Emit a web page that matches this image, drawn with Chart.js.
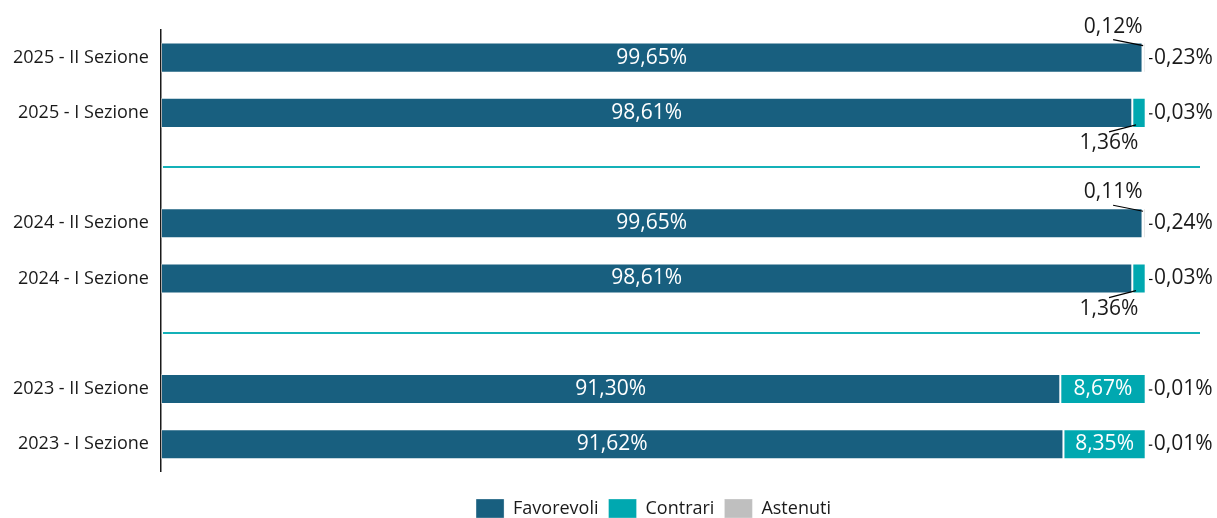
<!DOCTYPE html>
<html lang="it">
<head>
<meta charset="utf-8">
<title>Voti Sezioni</title>
<script src="https://cdn.jsdelivr.net/npm/chart.js@4"></script>
<style>
  html, body { margin: 0; padding: 0; background: #fff; overflow: hidden; }
  #wrap { width: 1217px; height: 528px; position: relative; }
</style>
</head>
<body>
<div id="wrap"><canvas id="votiChart"></canvas></div>
<script>
// --- Dati ---
const categorie = ['2025 - II Sezione', '2025 - I Sezione', '', '2024 - II Sezione', '2024 - I Sezione', '', '2023 - II Sezione', '2023 - I Sezione'];
const favorevoli = [99.65, 98.61, null, 99.65, 98.61, null, 91.30, 91.62];
const contrari   = [0.12, 1.36, null, 0.11, 1.36, null, 8.67, 8.35];
const astenuti   = [0.23, 0.03, null, 0.24, 0.03, null, 0.01, 0.01];

const COL_FAV = '#185F7F';
const COL_CON = '#00A8B0';
const COL_AST = '#BFBFBF';
const COL_SEP = '#14B1B8';
const FONT = "'Open Sans', 'Liberation Sans', sans-serif";

function fmt(v) { return v.toFixed(2).replace('.', ',') + '%'; }

Chart.defaults.font.family = FONT;
Chart.defaults.font.size = 18;
Chart.defaults.color = '#1a1a1a';

// linee separatrici tra gli anni
const separatori = {
    id: 'separatori',
    beforeDatasetsDraw(chart) {
        const ctx = chart.ctx, y = chart.scales.y, a = chart.chartArea;
        ctx.save();
        ctx.strokeStyle = COL_SEP;
        ctx.lineWidth = 2;
        categorie.forEach((c, i) => {
            if (c !== '') return;
            const py = Math.round(y.getPixelForValue(i)) - 1;
            ctx.beginPath();
            ctx.moveTo(a.left + 2, py);
            ctx.lineTo(a.right + 54, py);
            ctx.stroke();
        });
        ctx.restore();
    }
};

// etichette dei valori
const etichette = {
    id: 'etichette',
    afterDatasetsDraw(chart) {
        const ctx = chart.ctx;
        ctx.save();
        ctx.font = '21px ' + FONT;
        ctx.textBaseline = 'middle';
        const mFav = chart.getDatasetMeta(0).data;
        const mCon = chart.getDatasetMeta(1).data;
        const mAst = chart.getDatasetMeta(2).data;
        categorie.forEach((c, i) => {
            if (c === '') return;
            // favorevoli
            const f = mFav[i];
            ctx.fillStyle = '#ffffff';
            ctx.textAlign = 'center';
            ctx.fillText(fmt(favorevoli[i]), (f.base + f.x) / 2, f.y);
            // contrari
            const k = mCon[i];
            if (contrari[i] >= 3) {
                ctx.fillStyle = '#ffffff';
                ctx.fillText(fmt(contrari[i]), (k.base + k.x) / 2, k.y);
            } else {
                // etichetta esterna con linea guida
                const cx = (k.base + k.x) / 2;
                const half = k.height / 2;
                const sopra = c.indexOf('II') >= 0;
                ctx.strokeStyle = '#000';
                ctx.lineWidth = 1.2;
                ctx.beginPath();
                if (sopra) {
                    ctx.moveTo(cx - 30, k.y - half - 3);
                    ctx.lineTo(cx, k.y - half + 3);
                } else {
                    ctx.moveTo(cx - 30, k.y + half + 4);
                    ctx.lineTo(cx - 3, k.y + half - 3);
                }
                ctx.stroke();
                ctx.fillStyle = '#1a1a1a';
                ctx.textAlign = 'center';
                ctx.fillText(fmt(contrari[i]), cx - 30, sopra ? k.y - half - 16 : k.y + half + 15);
            }
            // astenuti
            const s = mAst[i];
            ctx.strokeStyle = '#000';
            ctx.lineWidth = 1.2;
            ctx.beginPath();
            ctx.moveTo(s.x + 3, s.y + 1);
            ctx.lineTo(s.x + 6.5, s.y + 1);
            ctx.stroke();
            ctx.fillStyle = '#1a1a1a';
            ctx.textAlign = 'left';
            ctx.fillText(fmt(astenuti[i]), s.x + 8, s.y);
        });
        ctx.restore();
    }
};

const barStyle = { borderColor: 'rgba(255,255,255,0.3)', borderWidth: 1, borderSkipped: false, barPercentage: 0.545, categoryPercentage: 1 };

new Chart(document.getElementById('votiChart'), {
    type: 'bar',
    data: {
        labels: categorie,
        datasets: [
            Object.assign({ label: 'Favorevoli', data: favorevoli, backgroundColor: COL_FAV }, barStyle),
            Object.assign({ label: 'Contrari', data: contrari, backgroundColor: COL_CON }, barStyle),
            Object.assign({ label: 'Astenuti', data: astenuti, backgroundColor: COL_AST }, barStyle)
        ]
    },
    options: {
        indexAxis: 'y',
        responsive: true,
        maintainAspectRatio: false,
        animation: false,
        layout: { padding: { top: 30, right: 71, left: 1, bottom: 0 } },
        scales: {
            x: { stacked: true, min: 0, max: 100, display: false },
            y: {
                stacked: true,
                grid: { display: false, drawTicks: false },
                border: { display: true, color: '#1a1a1a', width: 1.5 },
                ticks: { padding: 12, color: '#1a1a1a', font: { size: 18 } }
            }
        },
        plugins: {
            legend: {
                position: 'bottom',
                fullSize: false,
                title: { display: true, text: ' ', font: { size: 1 }, padding: { top: 0, bottom: 16 } },
                labels: { boxWidth: 28, boxHeight: 19, padding: 10, color: '#1a1a1a', font: { size: 18 } }
            },
            tooltip: { enabled: false }
        }
    },
    plugins: [separatori, etichette]
});
</script>
</body>
</html>
